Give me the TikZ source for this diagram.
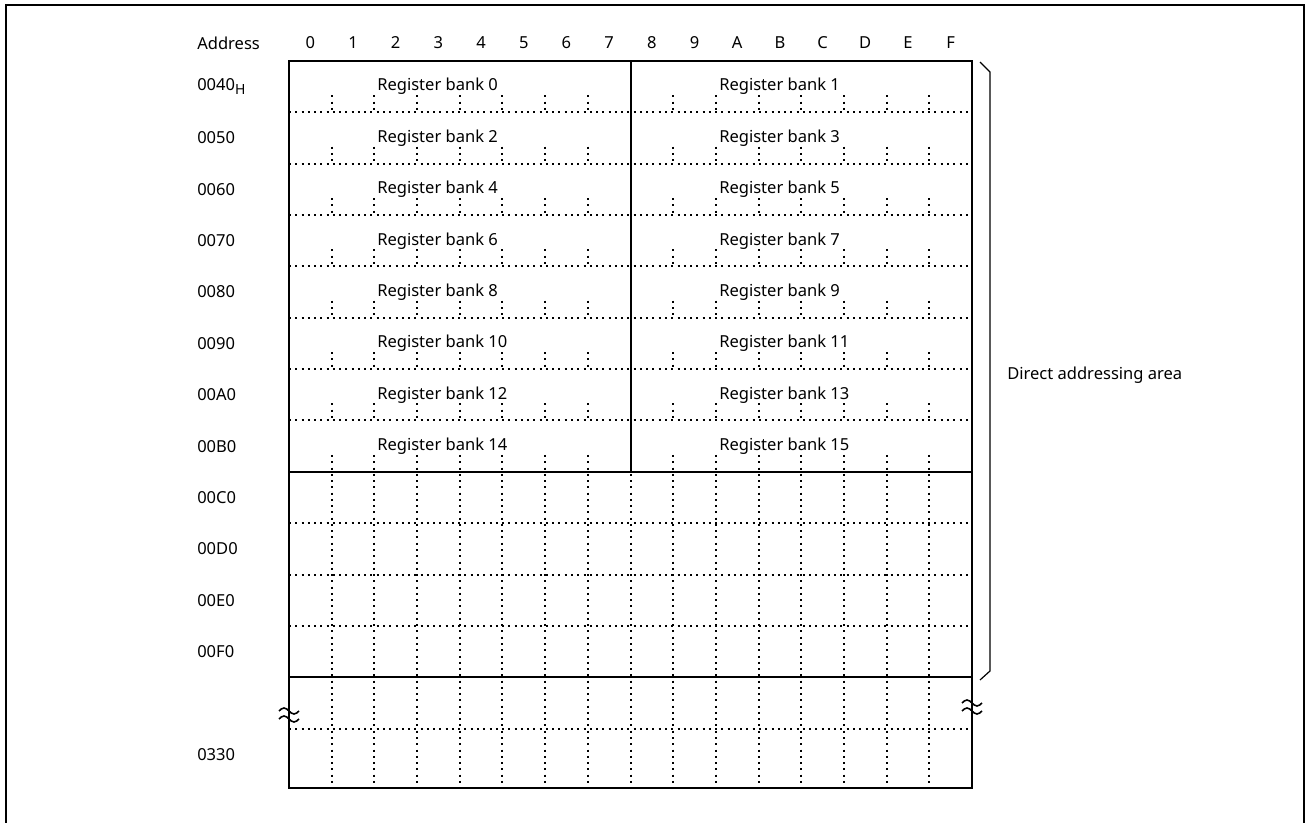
\documentclass[tikz,border=0pt]{standalone}
\usepackage{fontspec}
\setmainfont{Noto Sans}
\usetikzlibrary{positioning}

\begin{document}
\begin{tikzpicture}[x=0.75pt,y=-0.75pt,font=\fontsize{12.4}{14}\selectfont,
      outline/.style={line width=1.3pt},
      dots/.style={line width=1.5pt,dash pattern=on 1.5pt off 3.2pt},
      lbl/.style={anchor=west,inner sep=0pt},
      bank/.style={anchor=base west,inner sep=0pt}]
    \useasboundingbox (0,0) rectangle (1307,823);
    \draw[line width=1.5pt] (6,823) -- (6,5) -- (1304,5) -- (1304,823);

    \node[lbl] (addr) at (197,43) {Address};
    \foreach \c [count=\k from 0] in {0,1,2,3,4,5,6,7,8,9,A,B,C,D,E,F}
      \node (col\c) at (310.3+42.69*\k,43) {\c};
    \foreach \a [count=\r from 0] in {0040\raisebox{-0.45ex}{\fontsize{10.5}{12}\selectfont H},0050,0060,0070,0080,0090,00A0,00B0,00C0,00D0,00E0,00F0}
      \node[lbl] (row\r) at (197,{61+51.35*(\r+0.5)}) {\a};
    \node[lbl] (rowlast) at (197,755) {0330};

    \foreach \b in {0,...,7} {
      \pgfmathtruncatemacro\lo{2*\b}
      \pgfmathtruncatemacro\hi{2*\b+1}
      \node[bank] (bank\lo) at (377,{61+51.35*\b+30}) {Register bank \lo};
      \node[bank] (bank\hi) at (719,{61+51.35*\b+30}) {Register bank \hi};
    }

    \foreach \r in {1,...,7}
      \draw[dots] (289,{61+51.35*\r}) -- (972,{61+51.35*\r});
    \foreach \y in {523.4,574.8,626.1,729}
      \draw[dots] (289,\y) -- (972,\y);
    \foreach \r in {1,...,7}
      \foreach \j in {1,2,3,4,5,6,7,9,10,11,12,13,14,15}
        \draw[dots] ({289+42.69*\j},{61+51.35*\r-17}) -- ++(0,17);
    \foreach \j in {1,...,15}
      \draw[dots] ({289+42.69*\j},455) -- ({289+42.69*\j},788);

    \draw[outline] (289,61) rectangle (972,788);
    \draw[outline] (289,472) -- (972,472);
    \draw[outline] (289,677.2) -- (972,677.2);
    \draw[line width=1.1pt] (631,61) -- (631,472);

    % break marks
    \foreach \x/\y in {289/711,972/703} {
      \draw[line width=1.2pt] (\x-10,\y) sin (\x-5,\y-3) cos (\x,\y) sin (\x+5,\y+3) cos (\x+10,\y);
      \draw[line width=1.2pt] (\x-10,\y+8) sin (\x-5,\y+5) cos (\x,\y+8) sin (\x+5,\y+11) cos (\x+10,\y+8);
    }

    \draw[line width=0.9pt] (980,62) -- (990,72) -- (990,671) -- (980,680);
    \node[lbl] (area) at (1007,375) {Direct addressing area};
  \end{tikzpicture}
\end{document}
